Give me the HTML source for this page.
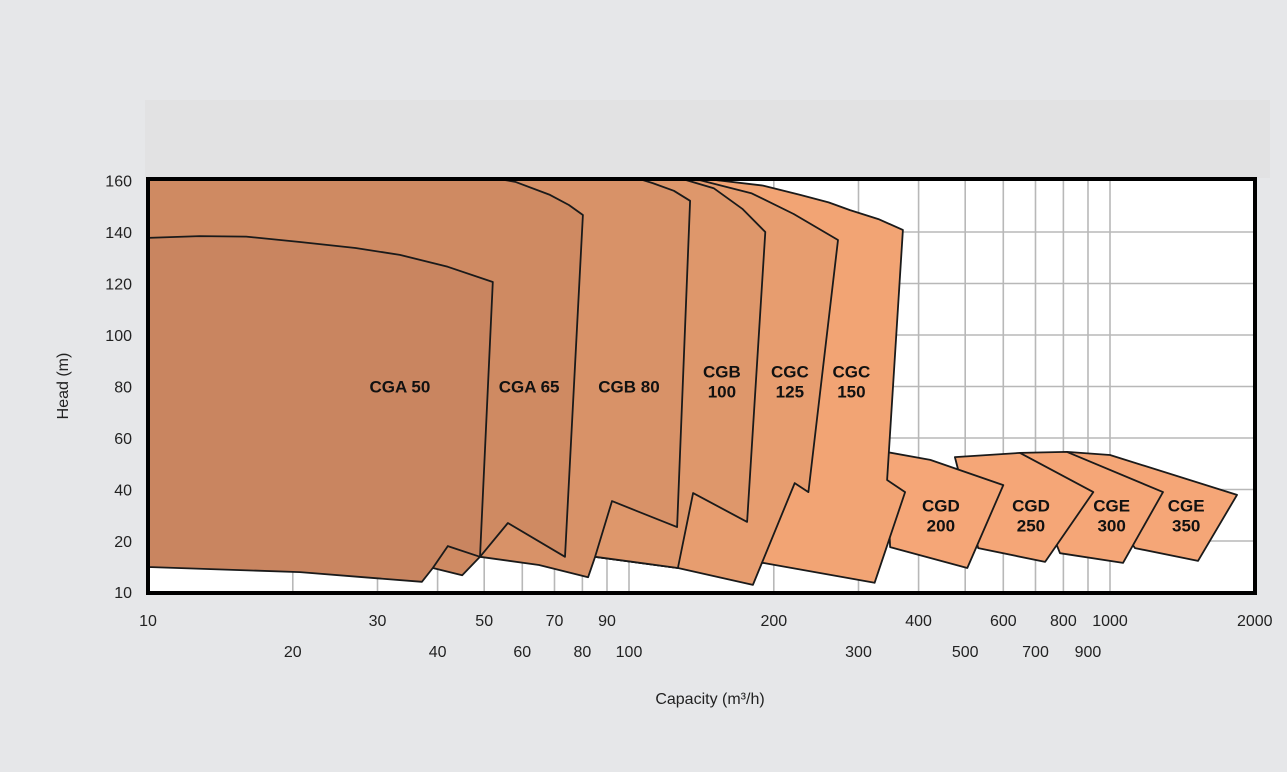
<!DOCTYPE html>
<html><head><meta charset="utf-8"><style>
html,body{margin:0;padding:0;background:#e6e7e9;}
svg{display:block;font-family:"Liberation Sans",Arial,sans-serif;}
</style></head><body>
<svg id="chart" width="1287" height="772" viewBox="0 0 1287 772">
<rect x="0" y="0" width="1287" height="772" fill="#e6e7e9"/>
<rect x="145" y="100" width="1125" height="78" fill="#e2e2e3"/>
<rect x="148" y="179" width="1107" height="414" fill="#ffffff"/>
<g id="grid"></g>
<defs><clipPath id="clip"><rect x="148" y="179" width="1107" height="414"/></clipPath></defs>
<g id="regions" clip-path="url(#clip)"></g>
<g id="labels"></g>
<rect x="148" y="179" width="1107" height="414" fill="none" stroke="#000" stroke-width="4"/>
<g id="yticks"></g>
<g id="xticks"></g>
<text transform="translate(68,386) rotate(-90)" text-anchor="middle" font-size="16" fill="#222">Head (m)</text>
<text x="710" y="704" text-anchor="middle" font-size="16" fill="#222">Capacity (m³/h)</text>
</svg>
<script>
const yTicks = [10,20,40,60,80,100,120,140,160];
const xGrid = [20,30,40,50,60,70,80,90,100,200,300,400,500,600,700,800,900,1000];
const xLabelsRow1 = [10,30,50,70,90,200,400,600,800,1000,2000];
const xLabelsRow2 = [20,40,60,80,100,300,500,700,900];
const regionNames = ["CGE 350","CGE 300","CGD 250","CGD 200","CGC 150","CGC 125","CGB 100","CGB 80","CGA 65","CGA 50"];
const regionColors = ["#f5a677","#f5a677","#f5a677","#f5a677","#f2a474","#e79d6f","#de976b","#d89268","#cf8a62","#c98560"];
const cge350 = [[814,54.6],[1000,53.4],[1837,37.9],[1524,16.1],[1127,18.6]];
const cge300 = [[650,54.2],[814,54.6],[1289,39.0],[1064,15.7],[787,17.6]];
const cgd250 = [[476,52.6],[650,54.2],[923,39.0],[733,15.9],[532,18.6]];
const cgd200 = [[342,54.6],[423,51.5],[600,41.7],[505,14.7],[349,18.8]];
const cgc150 = [[10,164],[140.6,160.9],[190,158],[227,154.4],[260,151.5],[288,148.5],[330,145],[371,140.8],[344,43.7],[375,39.0],[324,11.8],[190,15.7],[126.4,14.7],[85,16.9],[60,25],[10,30]];
const cgc125 = [[10,164],[140.6,160.1],[180,155],[220,147],[272,136.9],[236,39.0],[221,42.5],[181,11.4],[126.4,14.7],[85,16.9],[60,25],[10,30]];
const cgb100 = [[10,164],[127.6,160.9],[150,157],[172,149],[192,140],[176,27.4],[135.9,38.6],[126.4,14.7],[85.0,16.9],[60,25],[10,30]];
const cgb80 = [[10,164],[100.5,161.7],[112,159],[124,156],[134.0,152.1],[125.9,25.4],[92.2,35.5],[85.0,16.9],[82.2,12.9],[65,15.3],[49.0,16.9],[30,25],[10,30]];
const cga65 = [[10,164],[50,161.5],[58,159.5],[68.5,154.4],[75,150.5],[80.2,146.6],[73.6,16.9],[56.0,27.0],[49.0,16.9],[45.0,13.3],[39.1,14.7],[10,14.9]];
const cga50 = [[10,137.7],[12.8,138.4],[16,138.2],[20.7,136.1],[27,133.8],[33.4,131.1],[42,126.5],[52.1,120.6],[49.0,16.9],[42.0,19.0],[39.1,14.7],[37.1,12.0],[28,12.9],[20.7,13.9],[10,14.9]];
const regionData = [cge350,cge300,cgd250,cgd200,cgc150,cgc125,cgb100,cgb80,cga65,cga50];
const labelLines = [["CGE","350"],["CGE","300"],["CGD","250"],["CGD","200"],["CGC","150"],["CGC","125"],["CGB","100"],["CGB 80"],["CGA 65"],["CGA 50"]];
const labelPos = [[1440,30],[1008,30],[685,30],[445,30],[290,82],[216,82],[156,82],[100,80],[62,80],[33.4,80]];

const NS="http://www.w3.org/2000/svg";
function X(q){return 148+481*(Math.log10(q)-1);}
function Y(h){return h>=20 ? 541-(h-20)*2.575 : 541+(20-h)*5.1;}
function mk(tag,attrs,parent){const e=document.createElementNS(NS,tag);for(const k in attrs)e.setAttribute(k,attrs[k]);parent.appendChild(e);return e;}

const grid=document.getElementById('grid');
xGrid.forEach(q=>{
  const l=mk('line',{x1:X(q),x2:X(q),y1:179,y2:593,stroke:'#b8b8b8','stroke-width':1.6},grid);
  
  
});
yTicks.slice(1,-1).forEach(h=>{
  const l=mk('line',{x1:148,x2:1255,y1:Y(h),y2:Y(h),stroke:'#b8b8b8','stroke-width':1.6},grid);
  
  
});

const reg=document.getElementById('regions');
regionData.forEach((pts,i)=>{
  const p=mk('polygon',{points:pts.map(d=>X(d[0]).toFixed(1)+','+Y(d[1]).toFixed(1)).join(' '),fill:regionColors[i],stroke:'#1a1a1a','stroke-width':1.8,'stroke-linejoin':'round'},reg);
  
  
});

const lab=document.getElementById('labels');
labelLines.forEach((lines,i)=>{
  const cx=X(labelPos[i][0]), cy=Y(labelPos[i][1]);
  const t=mk('text',{x:cx,y:cy-(lines.length-1)*10+6,'text-anchor':'middle','font-size':17,'font-weight':'bold',fill:'#111'},lab);
  
  
  lines.forEach((s,j)=>{const ts=mk('tspan',{x:cx,dy:j?20:0},t);ts.textContent=s;});
});

const yt=document.getElementById('yticks');
yTicks.forEach(h=>{
  const t=mk('text',{x:132,y:Y(h)+6,'text-anchor':'end','font-size':16,fill:'#222'},yt);
  
  
  t.textContent=h;
});
const xt=document.getElementById('xticks');
xLabelsRow1.forEach(q=>{
  const t=mk('text',{x:X(q),y:626,'text-anchor':'middle','font-size':16,fill:'#222'},xt);
  
  
  t.textContent=q;
});
xLabelsRow2.forEach(q=>{
  const t=mk('text',{x:X(q),y:657,'text-anchor':'middle','font-size':16,fill:'#222'},xt);
  
  
  t.textContent=q;
});
</script>
</body></html>
